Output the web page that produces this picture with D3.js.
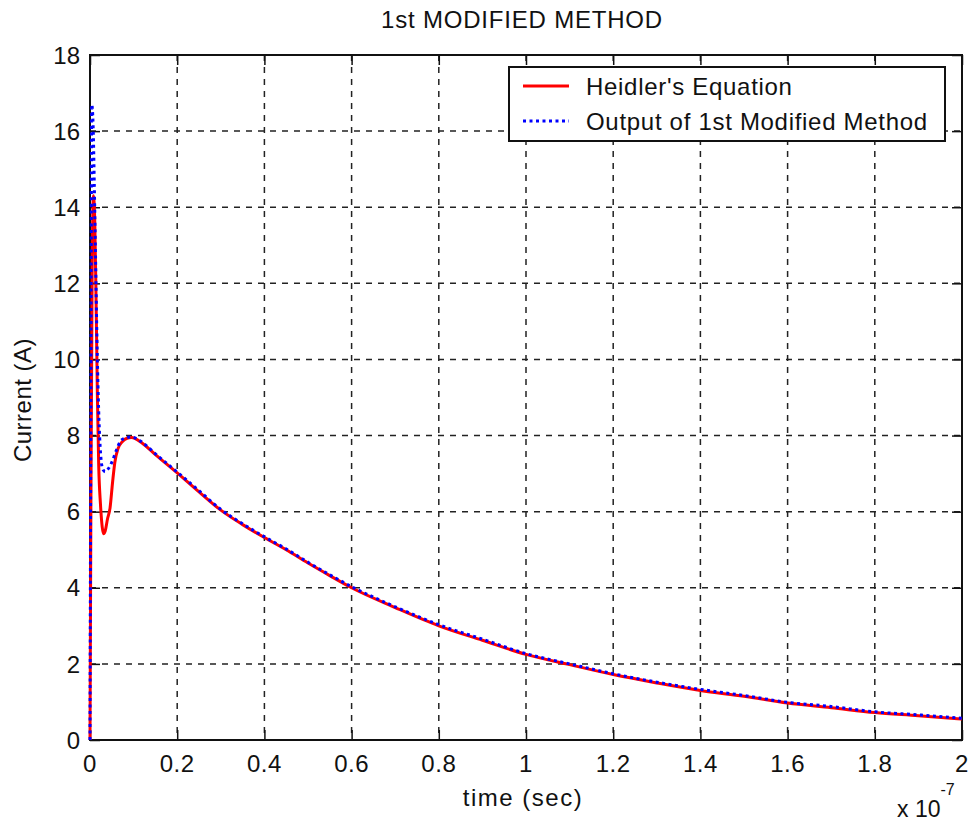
<!DOCTYPE html>
<html>
<head>
<meta charset="utf-8">
<script src="https://cdn.jsdelivr.net/npm/d3@7"></script>
<style>
  body { margin: 0; background: #fff; }
  svg text { font-family: "Liberation Sans", Arial, sans-serif; fill: #111; }
</style>
</head>
<body>
<div id="chart"></div>
<script>
// time in units of 1e-7 s, current in A
const heidlerT = [0, 0.002, 0.005, 0.008, 0.011, 0.014, 0.017, 0.02, 0.024, 0.028, 0.031, 0.035, 0.04, 0.046, 0.052, 0.057, 0.064, 0.075, 0.085, 0.095,
  0.12, 0.15, 0.2, 0.25, 0.3, 0.35, 0.4, 0.45, 0.5, 0.55, 0.6, 0.7, 0.8, 0.9, 1.0, 1.1, 1.2, 1.3, 1.4, 1.5, 1.6, 1.7, 1.8, 1.9, 2.0];
const heidlerI = [0, 6.0, 12.5, 14.3, 13.6, 11.5, 9.0, 7.2, 6.2, 5.6, 5.42, 5.5, 5.8, 6.1, 6.8, 7.3, 7.65, 7.85, 7.93, 7.95,
  7.8, 7.5, 7.02, 6.52, 6.04, 5.66, 5.32, 5.0, 4.65, 4.32, 4.0, 3.48, 3.0, 2.62, 2.25, 1.98, 1.72, 1.5, 1.3, 1.15, 0.97, 0.85, 0.72, 0.64, 0.55];

const methodT = [0, 0.002, 0.004, 0.007, 0.01, 0.013, 0.016, 0.019, 0.022, 0.026, 0.03, 0.035, 0.04, 0.046, 0.052, 0.06, 0.07, 0.08, 0.095,
  0.12, 0.15, 0.2, 0.25, 0.3, 0.35, 0.4, 0.45, 0.5, 0.55, 0.6, 0.7, 0.8, 0.9, 1.0, 1.1, 1.2, 1.3, 1.4, 1.5, 1.6, 1.7, 1.8, 1.9, 2.0];
const methodI = [0, 9.0, 16.7, 16.2, 14.5, 12.5, 10.5, 9.0, 8.0, 7.3, 7.1, 7.05, 7.1, 7.2, 7.35, 7.6, 7.85, 7.93, 7.96,
  7.82, 7.52, 7.04, 6.55, 6.06, 5.68, 5.34, 5.02, 4.67, 4.34, 4.03, 3.5, 3.03, 2.65, 2.27, 2.0, 1.74, 1.52, 1.33, 1.17, 0.99, 0.88, 0.74, 0.66, 0.57];

const xTicks = [0, 0.2, 0.4, 0.6, 0.8, 1, 1.2, 1.4, 1.6, 1.8, 2];
const yTicks = [0, 2, 4, 6, 8, 10, 12, 14, 16, 18];
const seriesNames = ["Heidler's Equation", "Output of 1st Modified Method"];

const W = 970, H = 821;
const pLeft = 90, pRight = 962, pTop = 55, pBottom = 740;

const svg = d3.select('#chart').append('svg').attr('width', W).attr('height', H);

const x = d3.scaleLinear().domain([0, 2]).range([pLeft, pRight]);
const y = d3.scaleLinear().domain([0, 18]).range([pBottom, pTop]);

// grid
const grid = svg.append('g').attr('stroke', '#222').attr('stroke-width', 1.5).attr('stroke-dasharray', '6,6');
grid.selectAll('.gx').data(xTicks.slice(1, -1)).enter().append('line')
  .attr('x1', d => x(d)).attr('x2', d => x(d)).attr('y1', pTop).attr('y2', pBottom);
grid.selectAll('.gy').data(yTicks.slice(1, -1)).enter().append('line')
  .attr('y1', d => y(d)).attr('y2', d => y(d)).attr('x1', pLeft).attr('x2', pRight);

// axes (ticks inward, on all sides)
const fmt = d => d3.format('')(d);
const axB = svg.append('g').attr('transform', `translate(0,${pBottom})`)
  .call(d3.axisTop(x).tickValues(xTicks).tickSize(10).tickFormat(''));
const axT = svg.append('g').attr('transform', `translate(0,${pTop})`)
  .call(d3.axisBottom(x).tickValues(xTicks).tickSize(10).tickFormat(''));
const axL = svg.append('g').attr('transform', `translate(${pLeft},0)`)
  .call(d3.axisRight(y).tickValues(yTicks).tickSize(10).tickFormat(''));
const axR = svg.append('g').attr('transform', `translate(${pRight},0)`)
  .call(d3.axisLeft(y).tickValues(yTicks).tickSize(10).tickFormat(''));
[axB, axT, axL, axR].forEach(a => {
  a.select('.domain').remove();
  a.selectAll('line').attr('stroke', '#111').attr('stroke-width', 1.5);
});

svg.append('rect').attr('x', pLeft).attr('y', pTop).attr('width', pRight - pLeft).attr('height', pBottom - pTop)
  .attr('fill', 'none').attr('stroke', '#111').attr('stroke-width', 2);

// tick labels
svg.append('g').selectAll('text').data(xTicks).enter().append('text')
  .attr('x', d => x(d)).attr('y', 772).attr('text-anchor', 'middle')
  .style('font-size', '24px').style('letter-spacing', '0.5px').text(fmt);
svg.append('g').selectAll('text').data(yTicks).enter().append('text')
  .attr('x', 80).attr('y', d => y(d)).attr('dy', '0.36em').attr('text-anchor', 'end')
  .style('font-size', '24px').text(fmt);

// lines
const line = d3.line().x(d => x(d[0])).y(d => y(d[1])).curve(d3.curveMonotoneX);
svg.append('path').datum(d3.zip(heidlerT, heidlerI)).attr('d', line)
  .attr('fill', 'none').attr('stroke', '#ff0000').attr('stroke-width', 3).attr('stroke-linejoin', 'round');
svg.append('path').datum(d3.zip(methodT, methodI)).attr('d', line)
  .attr('fill', 'none').attr('stroke', '#0000ff').attr('stroke-width', 3).attr('stroke-dasharray', '3,3.5');

// labels
svg.append('text').attr('x', 522).attr('y', 28).attr('text-anchor', 'middle')
  .style('font-size', '24px').style('letter-spacing', '0.8px').text('1st MODIFIED METHOD');
svg.append('text').attr('x', 523).attr('y', 806).attr('text-anchor', 'middle')
  .style('font-size', '24px').style('letter-spacing', '1.5px').text('time (sec)');
svg.append('text').attr('transform', 'translate(31,400) rotate(-90)').attr('text-anchor', 'middle')
  .style('font-size', '24px').style('letter-spacing', '0.5px').text('Current (A)');
const ex = svg.append('text').attr('x', 897).attr('y', 817).style('font-size', '23px');
ex.append('tspan').text('x 10');
ex.append('tspan').attr('dy', -22).style('font-size', '16px').text('-7');

// legend
const lg = svg.append('g');
lg.append('rect').attr('x', 509).attr('y', 67).attr('width', 436).attr('height', 74)
  .attr('fill', '#fff').attr('stroke', '#111').attr('stroke-width', 2);
const rows = [
  {name: seriesNames[0], color: '#ff0000', dash: null, yy: 86},
  {name: seriesNames[1], color: '#0000ff', dash: '3,3.5', yy: 121}
];
rows.forEach(r => {
  lg.append('line').attr('x1', 523).attr('x2', 569).attr('y1', r.yy).attr('y2', r.yy)
    .attr('stroke', r.color).attr('stroke-width', 3).attr('stroke-dasharray', r.dash);
  lg.append('text').attr('x', 586).attr('y', r.yy).attr('dy', '0.36em')
    .style('font-size', '24px').style('letter-spacing', '0.7px').text(r.name);
});
</script>
</body>
</html>
